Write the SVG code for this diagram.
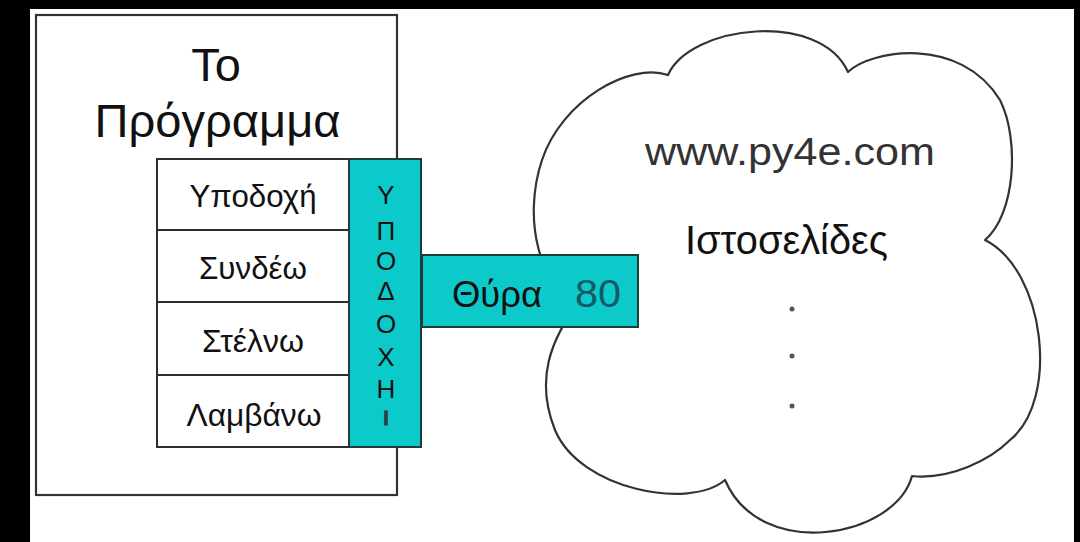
<svg xmlns="http://www.w3.org/2000/svg" width="1080" height="542" viewBox="0 0 1080 542">
  <style>
    .frame { fill: #ffffff; stroke: #333333; stroke-width: 2.2; }
    .row { fill: #ffffff; stroke: #2e2e2e; stroke-width: 2; }
    .teal { fill: #0ccaca; stroke: #1e3c3c; stroke-width: 2; }
    .cloud { fill: #ffffff; stroke: #333333; stroke-width: 2.2; stroke-linejoin: round; }
    .sans { font-family: "Liberation Sans", Arial, sans-serif; }
    .label { font-size: 31px; fill: #111111; text-anchor: middle; }
    .letter { font-size: 26px; fill: #111111; text-anchor: middle; }
  </style>

  <!-- page -->
  <rect x="0" y="0" width="1080" height="542" fill="#000000"/>
  <rect x="30" y="9" width="1044" height="533" fill="#ffffff"/>

  <!-- the program -->
  <g id="program">
    <rect class="frame" x="36" y="15" width="361" height="480"/>
    <text class="sans" x="216" y="81" font-size="47" fill="#111" text-anchor="middle">Το</text>
    <text class="sans" x="217.5" y="137" font-size="47" fill="#111" text-anchor="middle" textLength="246" lengthAdjust="spacingAndGlyphs">Πρόγραμμα</text>
  </g>

  <!-- socket operations -->
  <g id="op-accept">
    <rect class="row" x="157" y="159" width="192" height="71"/>
    <text class="sans label" x="253" y="207" textLength="127" lengthAdjust="spacingAndGlyphs">Υποδοχή</text>
  </g>
  <g id="op-connect">
    <rect class="row" x="157" y="230" width="192" height="72"/>
    <text class="sans label" x="253" y="279" textLength="108" lengthAdjust="spacingAndGlyphs">Συνδέω</text>
  </g>
  <g id="op-send">
    <rect class="row" x="157" y="302" width="192" height="73"/>
    <text class="sans label" x="253" y="352" textLength="102" lengthAdjust="spacingAndGlyphs">Στέλνω</text>
  </g>
  <g id="op-receive">
    <rect class="row" x="157" y="375" width="192" height="72"/>
    <text class="sans label" x="254" y="426" textLength="135" lengthAdjust="spacingAndGlyphs">Λαμβάνω</text>
  </g>

  <!-- remote host -->
  <g id="web-server">
    <path class="cloud" d="M 668,75
      C 690,25 820,10 848,72
      C 870,50 960,35 1000,100
      C 1020,140 1015,215 985,240
      C 1045,270 1060,400 1010,440
      C 990,460 950,480 912,476
      C 895,538 760,562 725,480
      C 690,510 580,490 555,430
      C 535,380 550,340 580,300
      C 540,290 522,220 542,160
      C 562,100 630,62 668,75 Z"/>
    <text class="sans" x="790" y="165" font-size="39" fill="#333333" text-anchor="middle" textLength="290" lengthAdjust="spacingAndGlyphs">www.py4e.com</text>
    <text class="sans" x="786.5" y="254" font-size="40" fill="#111111" text-anchor="middle" textLength="203" lengthAdjust="spacingAndGlyphs">Ιστοσελίδες</text>
    <circle cx="792" cy="309" r="2.5" fill="#555555"/>
    <circle cx="792" cy="356" r="2.5" fill="#555555"/>
    <circle cx="792" cy="406" r="2.5" fill="#555555"/>
  </g>

  <!-- socket column -->
  <g id="socket">
    <rect class="teal" x="349" y="159" width="72" height="288"/>
    <text class="sans letter" x="386" y="204">Υ</text>
    <text class="sans letter" x="386" y="240">Π</text>
    <text class="sans letter" x="386" y="270">Ο</text>
    <text class="sans letter" x="386" y="300">Δ</text>
    <text class="sans letter" x="386" y="333">Ο</text>
    <text class="sans letter" x="386" y="366">Χ</text>
    <text class="sans letter" x="386" y="398">Η</text>
    <text class="sans" x="386" y="425" font-size="20" font-weight="bold" fill="#2f4040" stroke="#2f4040" stroke-width="0.8" text-anchor="middle">I</text>
  </g>

  <!-- port -->
  <g id="port">
    <rect class="teal" x="422" y="255" width="216" height="72"/>
    <text class="sans" x="497" y="307" font-size="36" fill="#111111" text-anchor="middle" textLength="90" lengthAdjust="spacingAndGlyphs">Θύρα</text>
    <text class="sans" x="598" y="307" font-size="38" fill="#155866" text-anchor="middle" textLength="46" lengthAdjust="spacingAndGlyphs">80</text>
  </g>

  <g id="connectors"/>
</svg>
